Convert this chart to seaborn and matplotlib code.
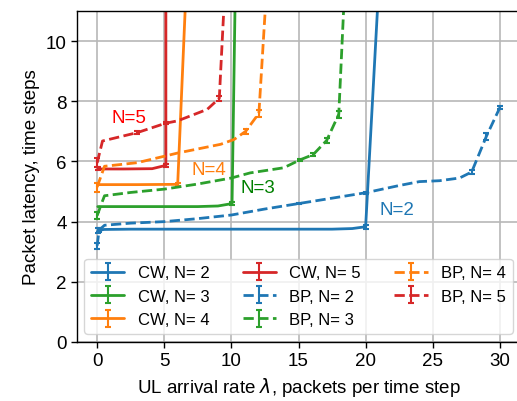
import matplotlib
matplotlib.use("Agg")
import matplotlib.pyplot as plt
import seaborn as sns
import numpy as np
from matplotlib.container import ErrorbarContainer

# ---------------- data ----------------
cw2_x = [0.05, 0.5, 2.5, 5, 7.5, 10, 12.5, 15, 17.5, 19, 20, 21.0]
cw2_y = [3.70, 3.74, 3.75, 3.75, 3.75, 3.75, 3.75, 3.75, 3.75, 3.77, 3.83, 12.0]
cw2_e = [0.08, 0, 0, 0, 0, 0, 0, 0, 0, 0, 0.06, 0]

cw3_x = [0.05, 0.1, 2.5, 5, 7.5, 9.0, 10.05, 10.3]
cw3_y = [4.5, 4.5, 4.5, 4.5, 4.5, 4.52, 4.6, 12.0]
cw3_e = [0, 0, 0, 0, 0, 0, 0.06, 0]

cw4_x = [0.05, 3, 6.0, 6.65]
cw4_y = [5.23, 5.23, 5.24, 12.0]
cw4_e = [0, 0, 0.06, 0]

cw5_x = [0.05, 2, 4.1, 5.12, 5.12]
cw5_y = [5.75, 5.75, 5.76, 5.87, 12.0]
cw5_e = [0.05, 0, 0, 0.06, 0]

bp2_x = [0.0, 0.15, 0.55, 2.5, 5, 7.5, 10, 12.5, 15, 17.5, 20, 22.5, 24, 25.5, 27, 27.9, 29, 30]
bp2_y = [3.2, 3.72, 3.88, 3.95, 4.0, 4.1, 4.22, 4.42, 4.6, 4.78, 4.96, 5.2, 5.33, 5.36, 5.45, 5.65, 6.84, 7.79]
bp2_e = [0.1, 0.08, 0, 0, 0, 0, 0, 0, 0.03, 0, 0.04, 0, 0, 0, 0, 0.08, 0.12, 0.05]

bp3_x = [0.0, 0.3, 0.55, 2.5, 5, 7.5, 10, 11.4, 13.9, 15.1, 16.1, 17.1, 18.0, 18.42]
bp3_y = [4.2, 4.57, 4.86, 4.97, 5.08, 5.25, 5.45, 5.62, 5.79, 6.05, 6.23, 6.7, 7.57, 11.6]
bp3_e = [0.12, 0, 0, 0, 0, 0, 0, 0, 0, 0.04, 0.06, 0.08, 0.12, 0]

bp4_x = [0.0, 0.55, 3, 6, 9.2, 10.2, 11.06, 12.05, 12.6]
bp4_y = [5.15, 5.84, 5.96, 6.28, 6.57, 6.73, 7.0, 7.6, 11.6]
bp4_e = [0.15, 0, 0, 0, 0, 0, 0.08, 0.12, 0]

bp5_x = [0.0, 0.4, 3, 5.1, 6, 8.2, 9.1, 9.5]
bp5_y = [5.95, 6.68, 6.96, 7.27, 7.35, 7.73, 8.1, 11.6]
bp5_e = [0.15, 0, 0.04, 0.04, 0, 0, 0.08, 0]

labels = ["CW, N= 2", "CW, N= 3", "CW, N= 4", "CW, N= 5",
          "BP, N= 2", "BP, N= 3", "BP, N= 4", "BP, N= 5"]

ann_text = ["N=5", "N=4", "N=3", "N=2"]
ann_x = [2.4, 8.3, 12.0, 22.3]
ann_y = [7.47, 5.73, 5.13, 4.4]

x_ticks = [0, 5, 10, 15, 20, 25, 30]
y_ticks = [0, 2, 4, 6, 8, 10]

# ---------------- style ----------------
sns.set_theme(style="ticks", rc={
    "axes.edgecolor": "black",
    "axes.linewidth": 1.0,
    "xtick.color": "black",
    "ytick.color": "black",
    "text.color": "black",
    "axes.labelcolor": "black",
})
plt.rcParams["font.family"] = ["Liberation Sans", "DejaVu Sans"]

pal = sns.color_palette("tab10")
blue, orange, green, red = pal[0], pal[1], pal[2], pal[3]

fig = plt.figure(figsize=(5.17, 4.02), dpi=100)
ax = fig.add_axes([77 / 517, 59 / 402, (520 - 77) / 517, (343 - 12) / 402])

series = [
    (cw2_x, cw2_y, cw2_e, blue, "-"),
    (cw3_x, cw3_y, cw3_e, green, "-"),
    (cw4_x, cw4_y, cw4_e, orange, "-"),
    (cw5_x, cw5_y, cw5_e, red, "-"),
    (bp2_x, bp2_y, bp2_e, blue, "--"),
    (bp3_x, bp3_y, bp3_e, green, "--"),
    (bp4_x, bp4_y, bp4_e, orange, "--"),
    (bp5_x, bp5_y, bp5_e, red, "--"),
]

handles = []
for (x, y, e, c, ls), lab in zip(series, labels):
    sns.lineplot(x=x, y=y, ax=ax, estimator=None, sort=False, color=c,
                 linestyle=ls, linewidth=2.0, legend=False)
    line = ax.lines[-1]
    xa, ya, ea = np.asarray(x), np.asarray(y), np.asarray(e)
    m = ea > 0
    eb = ax.errorbar(xa[m], ya[m], yerr=ea[m], fmt="none", ecolor=c,
                     elinewidth=1.5, capsize=2, capthick=1.5)
    handles.append(ErrorbarContainer((line, eb.lines[1], eb.lines[2]),
                                     has_xerr=False, has_yerr=True, label=lab))

ann_colors = ["red", orange, "green", blue]
for t, x, y, c in zip(ann_text, ann_x, ann_y, ann_colors):
    ax.text(x, y, t, color=c, fontsize=13.5, ha="center", va="center")

ax.set_xlim(-1.5, 31.5)
ax.set_ylim(0, 11)
ax.set_xticks(x_ticks)
ax.set_yticks(y_ticks)
ax.grid(True, color="#b8b8b8", linewidth=1.2)
ax.set_axisbelow(True)
ax.tick_params(labelsize=13.5, length=4, width=1.0, direction="out")
ax.set_xlabel(r"UL arrival rate $\lambda$, packets per time step", fontsize=13.5)
ax.set_ylabel("Packet latency, time steps", fontsize=13.5)

ax.legend(handles=handles, ncol=3, loc="lower center", fontsize=12,
          framealpha=0.8)

fig.savefig("out.png", dpi=100)
